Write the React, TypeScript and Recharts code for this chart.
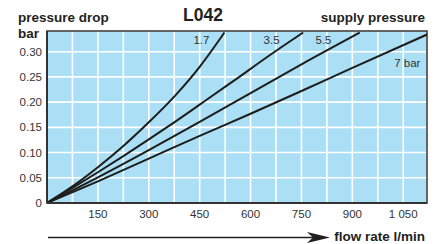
import React from 'react';
import {
  LineChart,
  Line,
  XAxis,
  YAxis,
  CartesianGrid,
  ReferenceArea,
  ReferenceDot,
} from 'recharts';

// flow rate (l/min) vs pressure drop (bar), one curve per supply pressure
const flow17 = [0, 75, 150, 225, 300, 375, 450, 523];
const drop17 = [0, 0.033, 0.071, 0.113, 0.16, 0.211, 0.27, 0.338];

const flow35 = [0, 75, 150, 225, 300, 375, 450, 550, 650, 755];
const drop35 = [0, 0.03, 0.061, 0.093, 0.126, 0.16, 0.195, 0.242, 0.29, 0.338];

const flow55 = [0, 150, 300, 450, 600, 750, 922];
const drop55 = [0, 0.051, 0.105, 0.161, 0.218, 0.275, 0.338];

const flow7 = [0, 150, 300, 450, 600, 750, 900, 1120];
const drop7 = [0, 0.043, 0.088, 0.133, 0.177, 0.222, 0.268, 0.334];

const curveLabels = ['1.7', '3.5', '5.5', '7 bar'];
const labelFlow = [455, 662, 815, 1062];
const labelDrop = [0.324, 0.324, 0.324, 0.278];

const xTicks = [75, 150, 225, 300, 375, 450, 525, 600, 675, 750, 825, 900, 975, 1050];
const yTicks = [0, 0.05, 0.1, 0.15, 0.2, 0.25, 0.3];

const toRows = (xs: number[], ys: number[]) => xs.map((x, i) => ({ flow: x, drop: ys[i] }));

const series = [
  toRows(flow17, drop17),
  toRows(flow35, drop35),
  toRows(flow55, drop55),
  toRows(flow7, drop7),
];

const FONT = '"Liberation Sans", Arial, Helvetica, sans-serif';
const INK = '#231f20';

const fmtX = (v: number) => {
  if (v % 150 !== 0) return '';
  return v >= 1000 ? `${Math.floor(v / 1000)} ${String(v % 1000).padStart(3, '0')}` : String(v);
};
const fmtY = (v: number) => (v === 0 ? '0' : v.toFixed(2));

export default function App() {
  return (
    <div style={{ position: 'absolute', left: 0, top: 0, width: 439, height: 244, background: '#fff', fontFamily: FONT }}>
      <LineChart width={439} height={244} margin={{ top: 31, right: 12, bottom: 0, left: 0 }}>
        <CartesianGrid fill="#aadff6" stroke="#fff" strokeWidth={1.6} />
        <XAxis
          dataKey="flow"
          type="number"
          domain={[0, 1120]}
          ticks={xTicks}
          tickFormatter={fmtX}
          height={41}
          tickSize={0}
          tickMargin={7}
          axisLine={{ stroke: '#333', strokeWidth: 2 }}
          tick={{ fontSize: 11.5, fill: '#333', fontFamily: FONT }}
          allowDataOverflow
        />
        <YAxis
          type="number"
          domain={[0, 0.341]}
          ticks={yTicks}
          tickFormatter={fmtY}
          width={47}
          tickSize={0}
          tickMargin={5}
          axisLine={{ stroke: '#333', strokeWidth: 2 }}
          tick={{ fontSize: 11.5, fill: '#333', fontFamily: FONT }}
          allowDataOverflow
        />
        <ReferenceArea x1={0} x2={1120} y1={0} y2={0.341} fill="none" stroke="#333" strokeWidth={1.5} />
        {series.map((rows, i) => (
          <Line
            key={curveLabels[i]}
            data={rows}
            dataKey="drop"
            type="monotone"
            stroke="#1d1d1b"
            strokeWidth={2}
            dot={false}
            isAnimationActive={false}
          />
        ))}
        {curveLabels.map((t, i) => (
          <ReferenceDot
            key={t}
            x={labelFlow[i]}
            y={labelDrop[i]}
            r={0}
            stroke="none"
            label={{ value: t, position: 'center', fontSize: 11.5, fill: '#333', fontFamily: FONT }}
          />
        ))}
      </LineChart>
      <svg width={439} height={244} style={{ position: 'absolute', left: 0, top: 0, pointerEvents: 'none' }}>
        <g fontFamily={FONT} fontWeight="bold" fill={INK}>
          <text x={18} y={21.5} fontSize={13.5}>pressure drop</text>
          <text x={18} y={37.5} fontSize={13.5}>bar</text>
          <text x={183} y={21} fontSize={17.5}>L042</text>
          <text x={425} y={21.5} fontSize={13.5} textAnchor="end">supply pressure</text>
          <text x={425} y={240.5} fontSize={13.5} textAnchor="end">flow rate l/min</text>
        </g>
        <line x1={48} y1={237.5} x2={314} y2={237.5} stroke={INK} strokeWidth={1.5} />
        <polygon points="330,237.5 307,232 313,237.5 307,243" fill={INK} />
      </svg>
    </div>
  );
}
